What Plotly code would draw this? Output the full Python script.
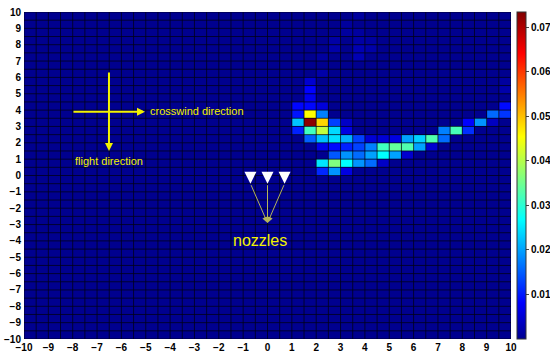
import numpy as np
import plotly.graph_objects as go

# cells that differ from the background (centre x, centre y, value)
cell_x = [3.75, 3.25, 3.25, 3.75, 2.75, 3.75, 4.25, 2.75, 3.75, 4.25, 2.25, 3.75,
          2.25, 1.75, 1.75, 9.75, 9.75, 1.75,
          1.25, 1.75, 2.25, 9.75,
          1.25, 1.75, 2.25, 9.25, 9.75,
          1.25, 1.75, 2.25, 2.75, 3.25, 8.25, 8.75, 9.25,
          1.25, 1.75, 2.25, 2.75, 3.25, 7.25, 7.75, 8.25,
          1.75, 2.25, 2.75, 3.25, 3.75, 4.25, 4.75, 5.25, 5.75, 6.25, 6.75, 7.25,
          2.25, 2.75, 3.25, 3.75, 4.25, 4.75, 5.25, 5.75, 6.25, 6.75,
          2.75, 3.25, 3.75, 4.25, 4.75, 5.25, 5.75,
          2.25, 2.75, 3.25, 3.75, 4.25, 4.75,
          2.25, 2.75, 3.25]
cell_y = [9.75, 9.25, 8.75, 8.75, 8.25, 8.25, 8.25, 7.75, 7.75, 7.75, 7.25, 7.25,
          6.25, 5.75, 5.25, 5.75, 5.25, 4.75,
          4.25, 4.25, 4.25, 4.25,
          3.75, 3.75, 3.75, 3.75, 3.75,
          3.25, 3.25, 3.25, 3.25, 3.25, 3.25, 3.25, 3.25,
          2.75, 2.75, 2.75, 2.75, 2.75, 2.75, 2.75, 2.75,
          2.25, 2.25, 2.25, 2.25, 2.25, 2.25, 2.25, 2.25, 2.25, 2.25, 2.25, 2.25,
          1.75, 1.75, 1.75, 1.75, 1.75, 1.75, 1.75, 1.75, 1.75, 1.75,
          1.25, 1.25, 1.25, 1.25, 1.25, 1.25, 1.25,
          0.75, 0.75, 0.75, 0.75, 0.75, 0.75,
          0.25, 0.25, 0.25]
cell_val = [0.0012, 0.0010, 0.0012, 0.0012, 0.0016, 0.0015, 0.0012, 0.0020, 0.0026, 0.0018, 0.0012, 0.0026,
            0.0020, 0.0047, 0.0082, 0.0012, 0.0020, 0.0070,
            0.0085, 0.0085, 0.0055, 0.0088,
            0.0095, 0.0454, 0.0175, 0.0160, 0.0120,
            0.0225, 0.0725, 0.0484, 0.0128, 0.0040, 0.0082, 0.0190, 0.0036,
            0.0105, 0.0315, 0.0408, 0.0240, 0.0060, 0.0175, 0.0320, 0.0115,
            0.0152, 0.0222, 0.0245, 0.0210, 0.0128, 0.0050, 0.0050, 0.0060, 0.0200, 0.0234, 0.0327, 0.0160,
            0.0065, 0.0088, 0.0105, 0.0130, 0.0175, 0.0315, 0.0340, 0.0327, 0.0200, 0.0047,
            0.0145, 0.0190, 0.0160, 0.0200, 0.0268, 0.0200, 0.0045,
            0.0250, 0.0361, 0.0268, 0.0190, 0.0160, 0.0040,
            0.0110, 0.0190, 0.0060]

nozzle_x = [-0.7, 0.0, 0.7]
nozzle_y = [-0.5, -0.5, -0.5]

colorbar_ticks = [0.01, 0.02, 0.03, 0.04, 0.05, 0.06, 0.07]
axis_ticks = list(range(-10, 11))

# 0.5 x 0.5 grid over [-10, 10] x [-10, 10]
centres = np.arange(-9.75, 10, 0.5)
edges = np.arange(-10, 10.01, 0.5)
z = np.zeros((len(centres), len(centres)))
for cx, cy, v in zip(cell_x, cell_y, cell_val):
    z[int(round((cy + 9.75) / 0.5)), int(round((cx + 9.75) / 0.5))] = v

jet = [[0.0, 'rgb(0,0,143)'], [0.111, 'rgb(0,0,255)'], [0.365, 'rgb(0,255,255)'],
       [0.619, 'rgb(255,255,0)'], [0.873, 'rgb(255,0,0)'], [1.0, 'rgb(128,0,0)']]

fig = go.Figure()
fig.add_trace(go.Heatmap(
    x=centres, y=centres, z=z,
    zmin=0, zmax=0.0734,
    colorscale=jet,
    colorbar=dict(
        x=1.012, xanchor='left', xpad=0, y=0.5, yanchor='middle', ypad=0,
        len=1.0, thickness=9,
        outlinecolor='#333333', outlinewidth=1,
        tickvals=colorbar_ticks, ticktext=[f'{t:.2f}' for t in colorbar_ticks],
        ticks='outside', ticklen=3, tickcolor='#444444',
        tickfont=dict(family='Liberation Sans', size=10, color='black', weight='bold'),
    ),
    showscale=True,
))

# faceted cell edges drawn over the heatmap
gx, gy = [], []
for e in edges:
    gx += [e, e, None, -10, 10, None]
    gy += [-10, 10, None, e, e, None]
fig.add_trace(go.Scatter(
    x=gx, y=gy, mode='lines',
    line=dict(color='rgba(0,0,20,0.75)', width=1),
    hoverinfo='skip', showlegend=False,
))

# nozzles
fig.add_trace(go.Scatter(
    x=nozzle_x, y=nozzle_y, mode='markers',
    marker=dict(symbol='arrow-down', size=12, color='white', line=dict(width=0)),
    showlegend=False,
))

yellow = '#f2f200'
annotations = [
    # flight direction (vertical arrow)
    dict(x=-6.51, y=1.5, ax=-6.51, ay=6.39, xref='x', yref='y', axref='x', ayref='y',
         showarrow=True, arrowhead=2, arrowsize=0.8, arrowwidth=2, arrowcolor=yellow, text=''),
    # crosswind direction (horizontal arrow)
    dict(x=-5.03, y=3.9, ax=-8.03, ay=3.9, xref='x', yref='y', axref='x', ayref='y',
         showarrow=True, arrowhead=2, arrowsize=0.8, arrowwidth=2, arrowcolor=yellow, text=''),
    dict(x=-4.9, y=3.96, xref='x', yref='y', text='crosswind direction', showarrow=False,
         xanchor='left', yanchor='middle',
         font=dict(family='Liberation Sans', size=11, color=yellow)),
    dict(x=-7.99, y=0.9, xref='x', yref='y', text='flight direction', showarrow=False,
         xanchor='left', yanchor='middle',
         font=dict(family='Liberation Sans', size=11, color=yellow)),
    dict(x=-0.3, y=-3.95, xref='x', yref='y', text='nozzles', showarrow=False,
         xanchor='center', yanchor='middle',
         font=dict(family='Liberation Sans', size=16, color=yellow)),
]
for nx, ny in zip(nozzle_x, nozzle_y):
    annotations.append(dict(
        x=0, y=-2.9, ax=nx, ay=ny, xref='x', yref='y', axref='x', ayref='y',
        showarrow=True, arrowhead=2, arrowsize=1.2, arrowwidth=1,
        arrowcolor='#b4b45a', text=''))

fig.update_layout(
    width=550, height=362,
    margin=dict(l=24, r=39, t=12, b=23, autoexpand=False),
    paper_bgcolor='white',
    plot_bgcolor='#00008f',
    annotations=annotations,
    showlegend=False,
    xaxis=dict(range=[-10, 10], tickvals=axis_ticks, showgrid=False, zeroline=False,
               ticks='', ticklabelstandoff=1, automargin=False,
               tickfont=dict(family='Liberation Sans', size=10, color='black', weight='bold')),
    yaxis=dict(range=[-10, 10], tickvals=axis_ticks, showgrid=False, zeroline=False,
               ticks='', ticklabelstandoff=2, automargin=False,
               tickfont=dict(family='Liberation Sans', size=10, color='black', weight='bold')),
)

# drop the browser's default 8 px body margin so the figure sits at the page corner
fig.write_html("out.html", config={'displayModeBar': False},
               post_script="document.body.style.margin='0px';")
